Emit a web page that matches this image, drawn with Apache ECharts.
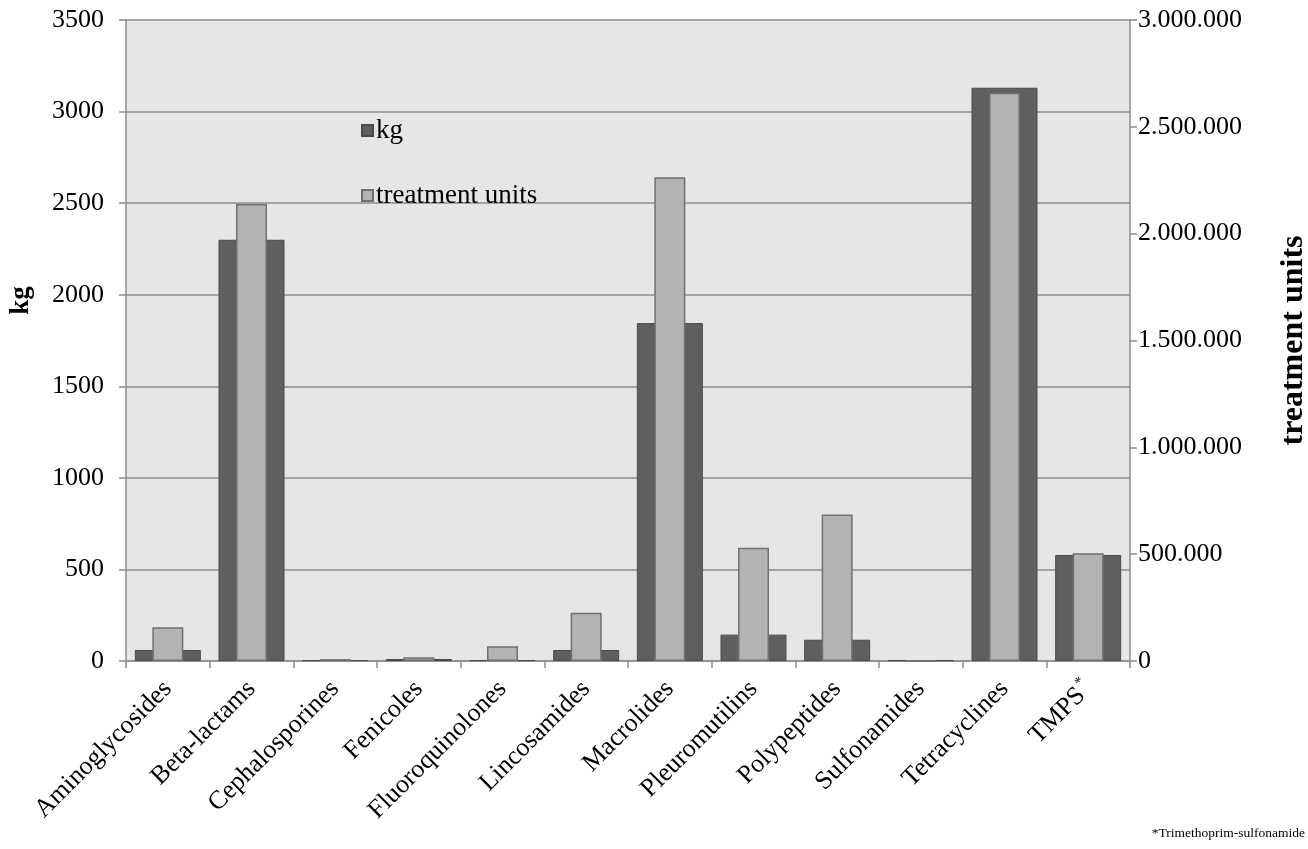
<!DOCTYPE html>
<html>
<head>
<meta charset="utf-8">
<script src="https://cdn.jsdelivr.net/npm/echarts@6/dist/echarts.min.js"></script>
<style>
html,body{margin:0;padding:0;background:#fff;}
#c{width:1308px;height:849px;}
</style>
</head>
<body>
<div id="c"></div>
<script>
const categories = ['Aminoglycosides','Beta-lactams','Cephalosporines','Fenicoles','Fluoroquinolones','Lincosamides','Macrolides','Pleuromutilins','Polypeptides','Sulfonamides','Tetracyclines','TMPS'];
const kgValues = [60, 2300, 5, 11, 5, 60, 1845, 144, 116, 4, 3130, 579];
const treatmentUnits = [158000, 2139000, 9000, 17000, 69000, 226000, 2264000, 530000, 686000, 3000, 2660000, 504000];
const leftTicks = {min: 0, max: 3500, interval: 500};
const rightTicks = {min: 0, max: 3000000, interval: 500000};
const footnote = '*Trimethoprim-sulfonamide';

const serif = '"Liberation Serif", "DejaVu Serif", serif';
const chart = echarts.init(document.getElementById('c'));
const fmtDots = v => String(v).replace(/\B(?=(\d{3})+(?!\d))/g, '.');

chart.setOption({
  animation: false,
  textStyle: {fontFamily: serif},
  grid: {left: 126, right: 178, top: 20, bottom: 188, show: true, backgroundColor: '#e6e6e6', borderWidth: 0, containLabel: false, outerBoundsMode: 'none'},
  legend: {
    orient: 'vertical', left: 356, top: 112, itemGap: 38,
    itemWidth: 11, itemHeight: 11, icon: 'rect',
    textStyle: {fontFamily: serif, fontSize: 27, color: '#000', padding: [0,0,0,-2]},
    data: ['kg', 'treatment units']
  },
  graphic: [{
    type: 'text', right: 3, top: 826,
    style: {text: footnote, font: '13.5px ' + serif, fill: '#000'}
  }],
  xAxis: [{
    type: 'category', data: categories,
    axisLine: {lineStyle: {color: '#8c8c8c', width: 1.5}},
    axisTick: {show: true, length: 7, lineStyle: {color: '#8c8c8c', width: 1.5}},
    axisLabel: {
      rotate: 45, interval: 0, margin: 24, color: '#000', fontFamily: serif, fontSize: 26,
      formatter: v => v === 'TMPS' ? '{a|TMPS}{s|*}' : '{a|' + v + '}',
      rich: {
        a: {fontFamily: serif, fontSize: 26, color: '#000'},
        s: {fontFamily: serif, fontSize: 15, color: '#000', padding: [0, 0, 16, 2]}
      }
    }
  }, {
    type: 'category', data: categories, show: false
  }],
  yAxis: [{
    type: 'value', min: leftTicks.min, max: leftTicks.max, interval: leftTicks.interval,
    name: 'kg', nameLocation: 'middle', nameGap: 91, nameRotate: 90,
    nameTextStyle: {fontFamily: serif, fontSize: 27, fontWeight: 'bold', color: '#000', padding: [0, 0, 0, 80]},
    axisLine: {show: true, lineStyle: {color: '#8c8c8c', width: 1.5}},
    axisTick: {show: true, length: 7, lineStyle: {color: '#8c8c8c', width: 1.5}},
    axisLabel: {color: '#000', fontFamily: serif, fontSize: 26, margin: 22, formatter: v => String(v)},
    splitLine: {show: true, lineStyle: {color: '#8c8c8c', width: 1.5}}
  }, {
    type: 'value', min: rightTicks.min, max: rightTicks.max, interval: rightTicks.interval,
    position: 'right',
    name: 'treatment units', nameLocation: 'middle', nameGap: 148, nameRotate: 90,
    nameTextStyle: {fontFamily: serif, fontSize: 32, fontWeight: 'bold', color: '#000'},
    axisLine: {show: true, lineStyle: {color: '#8c8c8c', width: 1.5}},
    axisTick: {show: true, length: 7, lineStyle: {color: '#8c8c8c', width: 1.5}},
    axisLabel: {color: '#000', fontFamily: serif, fontSize: 26, margin: 8, formatter: fmtDots},
    splitLine: {show: false}
  }],
  series: [{
    name: 'kg', type: 'bar', xAxisIndex: 0, yAxisIndex: 0, data: kgValues,
    barWidth: 66, z: 2,
    itemStyle: {color: '#5f5f5f', borderColor: '#4a4a4a', borderWidth: 1}
  }, {
    name: 'treatment units', type: 'bar', xAxisIndex: 1, yAxisIndex: 1, data: treatmentUnits,
    barWidth: 31, z: 3,
    itemStyle: {color: '#b3b3b3', borderColor: '#707070', borderWidth: 1.5}
  }]
});
</script>
</body>
</html>
